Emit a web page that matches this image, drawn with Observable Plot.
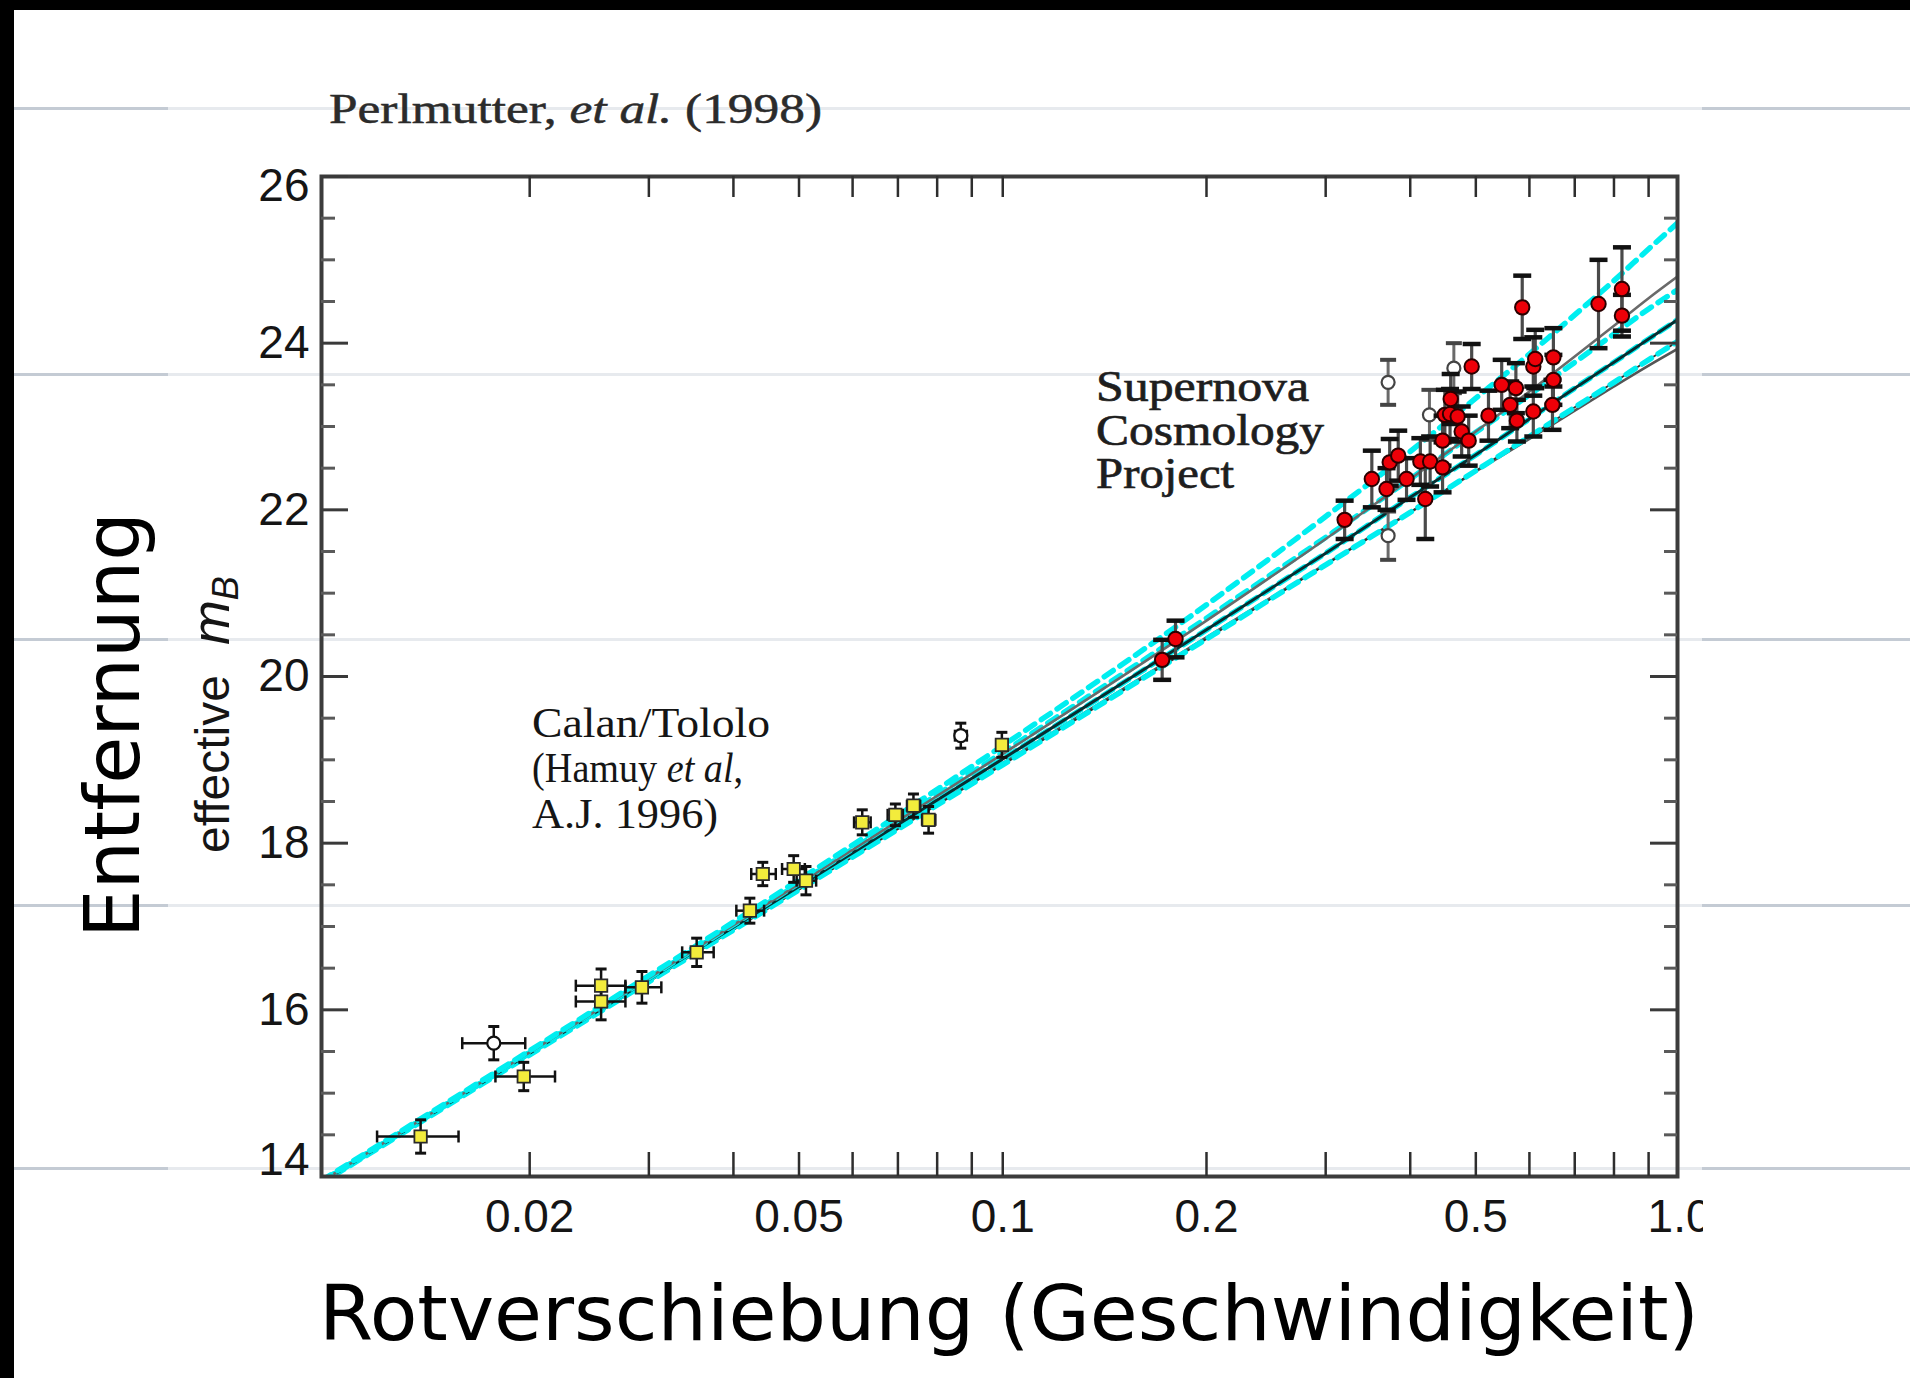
<!DOCTYPE html>
<html lang="de">
<head>
<meta charset="utf-8">
<title>Perlmutter et al. (1998)</title>
<script src="https://cdn.jsdelivr.net/npm/d3@7"></script>
<script src="https://cdn.jsdelivr.net/npm/@observablehq/plot@0.6"></script>
<style>
  html, body { margin:0; padding:0; background:#fff; }
  #page { position:relative; width:1910px; height:1378px; overflow:hidden; background:#fff; }
  .band { position:absolute; background:#000; z-index:3; }
  .sl { position:absolute; height:3px; z-index:0; }
  .sl.l { left:14px; width:154px; background:#c4cbd4; }
  .sl.m { left:168px; width:1534px; background:#e7eaee; }
  .sl.r { left:1702px; width:208px; background:#c4cbd4; }
  #chart { position:absolute; left:0; top:0; z-index:1; }
</style>
</head>
<body>
<div id="page">
  <div id="rules"></div>
  <div id="chart"></div>
  <div class="band" style="left:0;top:0;width:1910px;height:10px"></div>
  <div class="band" style="left:0;top:0;width:14px;height:1378px"></div>
</div>
<script>
// ---------------- data ----------------
// model curves (effective m_B read at these redshifts)
const zGrid      = [0.00985, 0.02, 0.05, 0.1, 0.2, 0.3, 0.4, 0.5, 0.6, 0.7, 0.8, 0.9, 0.993];
const mModel_0_1   = [13.95, 15.51, 17.56, 19.17, 20.86, 21.92, 22.70, 23.34, 23.87, 24.34, 24.75, 25.13, 25.44]; // (ΩM,ΩΛ)=(0,1) dashed
const mModel_0_0   = [13.94, 15.49, 17.51, 19.07, 20.67, 21.65, 22.37, 22.94, 23.42, 23.84, 24.21, 24.54, 24.80]; // (0,0) solid
const mModel_05_05 = [13.94, 15.49, 17.52, 19.09, 20.70, 21.67, 22.37, 22.93, 23.38, 23.77, 24.11, 24.41, 24.64]; // (0.5,0.5) dashed
const mModel_1_0   = [13.93, 15.48, 17.48, 19.01, 20.56, 21.48, 22.15, 22.66, 23.09, 23.46, 23.77, 24.05, 24.28]; // (1,0) solid+dashed
const mModel_15_m05= [13.92, 15.46, 17.44, 18.94, 20.45, 21.34, 21.97, 22.47, 22.88, 23.23, 23.53, 23.80, 24.02]; // (1.5,-0.5) dashed
const mModel_2_0   = [13.93, 15.47, 17.46, 18.96, 20.47, 21.35, 21.97, 22.46, 22.85, 23.19, 23.48, 23.73, 23.93]; // (2,0) solid

// Calan/Tololo supernovae (yellow)
const calanZ    = [0.0138, 0.0196, 0.0255, 0.0255, 0.0293, 0.0353, 0.0423, 0.0442, 0.0491, 0.0512, 0.0620, 0.0694, 0.0738, 0.0777, 0.0997];
const calanM    = [14.48, 15.20, 16.29, 16.10, 16.27, 16.69, 17.19, 17.63, 17.69, 17.55, 18.25, 18.34, 18.45, 18.28, 19.18];
const calanMErr = [0.20, 0.17, 0.20, 0.22, 0.19, 0.17, 0.15, 0.14, 0.16, 0.17, 0.15, 0.13, 0.14, 0.16, 0.15];
const calanZLo  = [0.0119, 0.0178, 0.0234, 0.0234, 0.0277, 0.0336, 0.0404, 0.0425, 0.0472, 0.0496, 0.0603, 0.0676, 0.0722, 0.0760, 0.0978];
const calanZHi  = [0.0157, 0.0218, 0.0277, 0.0277, 0.0313, 0.0374, 0.0444, 0.0462, 0.0510, 0.0530, 0.0638, 0.0712, 0.0755, 0.0795, 0.1017];
// Calan/Tololo excluded (open)
const calanOpenZ    = [0.0177, 0.0867];
const calanOpenM    = [15.60, 19.29];
const calanOpenMErr = [0.20, 0.15];
const calanOpenZLo  = [0.0159, 0.0850];
const calanOpenZHi  = [0.0197, 0.0885];

// Supernova Cosmology Project (red)
const scpZ   = [0.172, 0.180, 0.320, 0.351, 0.369, 0.373, 0.384, 0.395, 0.414, 0.421, 0.428, 0.4465, 0.4465, 0.450, 0.458, 0.459, 0.470, 0.4765, 0.488, 0.493, 0.522, 0.546, 0.562, 0.573, 0.575, 0.5855, 0.608, 0.608, 0.612, 0.651, 0.651, 0.649, 0.759, 0.822, 0.822];
const scpM   = [20.20, 20.45, 21.88, 22.37, 22.25, 22.57, 22.65, 22.37, 22.58, 22.13, 22.58, 22.51, 22.83, 23.14, 23.15, 23.33, 23.12, 22.94, 22.83, 23.72, 23.13, 23.50, 23.26, 23.46, 23.07, 24.43, 23.18, 23.72, 23.81, 23.83, 23.56, 23.26, 24.47, 24.65, 24.33];
const scpErr = [0.24, 0.22, 0.23, 0.34, 0.25, 0.28, 0.30, 0.25, 0.28, 0.48, 0.30, 0.30, 0.30, 0.30, 0.30, 0.30, 0.30, 0.30, 0.30, 0.27, 0.30, 0.30, 0.28, 0.30, 0.25, 0.38, 0.30, 0.35, 0.35, 0.35, 0.30, 0.30, 0.53, 0.50, 0.25];
// SCP excluded (open)
const scpOpenZ   = [0.371, 0.371, 0.427, 0.464];
const scpOpenM   = [23.53, 21.69, 23.14, 23.70];
const scpOpenErr = [0.27, 0.29, 0.30, 0.30];

// axes
const xTickValues = [0.02, 0.05, 0.1, 0.2, 0.5, 1.0];
const xTickLabels = ["0.02", "0.05", "0.1", "0.2", "0.5", "1.0"];
const xMinorTicks = [0.02, 0.03, 0.04, 0.05, 0.06, 0.07, 0.08, 0.09, 0.1, 0.2, 0.3, 0.4, 0.5, 0.6, 0.7, 0.8, 0.9];
const yTickValues = [14, 16, 18, 20, 22, 24, 26];
const yTickLabels = ["14", "16", "18", "20", "22", "24", "26"];
const yMinorTicks = [14.5, 15, 15.5, 16.5, 17, 17.5, 18.5, 19, 19.5, 20.5, 21, 21.5, 22.5, 23, 23.5, 24.5, 25, 25.5];

// annotations (anchor in data units: z of left edge, m of each baseline)
const calanLabelZ = 0.0202;
const calanLabelM = [19.27, 18.73, 18.18];
const scpLabelZ = 0.1376;
const scpLabelM = [23.30, 22.77, 22.26];
const scpLabelLines = ["Supernova", "Cosmology", "Project"];

// slide background rules (page decoration)
const slideRuleY = [108, 374, 639, 905, 1168];

// ---------------- page decoration ----------------
const rulesDiv = document.getElementById("rules");
for (const y of slideRuleY) {
  for (const c of ["l", "m", "r"]) {
    const d = document.createElement("div");
    d.className = "sl " + c;
    d.style.top = (y - 1.5) + "px";
    rulesDiv.appendChild(d);
  }
}

// ---------------- chart ----------------
const W = 1703, H = 1378, ML = 321, MR = 26, MT = 176, MB = 202;
const FW = W - ML - MR, FH = H - MT - MB;

const rows = ms => zGrid.map((z, i) => ({z, m: ms[i]}));
const calan = calanZ.map((z, i) => ({z, m: calanM[i], e: calanMErr[i], lo: calanZLo[i], hi: calanZHi[i]}));
const calanOpen = calanOpenZ.map((z, i) => ({z, m: calanOpenM[i], e: calanOpenMErr[i], lo: calanOpenZLo[i], hi: calanOpenZHi[i]}));
const scp = scpZ.map((z, i) => ({z, m: scpM[i], e: scpErr[i]}));
const scpOpen = scpOpenZ.map((z, i) => ({z, m: scpOpenM[i], e: scpOpenErr[i]}));

const hCap = {draw(ctx, size) { const r = Math.sqrt(size / Math.PI); ctx.moveTo(-r, 0); ctx.lineTo(r, 0); }};
const vCap = {draw(ctx, size) { const r = Math.sqrt(size / Math.PI); ctx.moveTo(0, -r); ctx.lineTo(0, r); }};

const cyan = "#00eef0";
const dash = {x: "z", y: "m", stroke: cyan, strokeWidth: 5.5, strokeDasharray: "11,8", curve: "monotone-x", clip: true};
const solid = (c, w) => ({x: "z", y: "m", stroke: c, strokeWidth: w, curve: "monotone-x", clip: true});
const sans = "'Liberation Sans', Arial, Helvetica, sans-serif";
const serif = "'Liberation Serif', 'Times New Roman', Times, serif";
const dejavu = "'DejaVu Sans', Verdana, sans-serif";

const yRows = yTickValues.map((v, i) => ({v, label: yTickLabels[i]}));

const chart = Plot.plot({
  width: W, height: H,
  marginLeft: ML, marginRight: MR, marginTop: MT, marginBottom: MB,
  style: {background: "transparent", overflow: "hidden", fontFamily: sans},
  x: {type: "log", domain: [0.00985, 0.993], axis: null},
  y: {domain: [14, 26], axis: null},
  marks: [
    // model curves
    Plot.line(rows(mModel_2_0), solid("#555", 2.6)),
    Plot.line(rows(mModel_15_m05), solid("#333", 1.8)),
    Plot.line(rows(mModel_15_m05), {...dash, strokeDashoffset: 4}),
    Plot.line(rows(mModel_1_0), {...dash, strokeDashoffset: 10}),
    Plot.line(rows(mModel_1_0), solid("#062f32", 3)),
    Plot.line(rows(mModel_05_05), {...dash, strokeDashoffset: 15}),
    Plot.line(rows(mModel_0_0), solid("#6a6a6a", 2.6)),
    Plot.line(rows(mModel_0_1), dash),

    // Calan/Tololo error bars
    Plot.ruleY(calan, {y: "m", x1: "lo", x2: "hi", stroke: "#111", strokeWidth: 2.5}),
    Plot.ruleX(calan, {x: "z", y1: d => d.m - d.e, y2: d => d.m + d.e, stroke: "#111", strokeWidth: 2.5}),
    Plot.dot(calan, {x: "z", y: d => d.m + d.e, symbol: hCap, r: 5.5, fill: "none", stroke: "#111", strokeWidth: 3}),
    Plot.dot(calan, {x: "z", y: d => d.m - d.e, symbol: hCap, r: 5.5, fill: "none", stroke: "#111", strokeWidth: 3}),
    Plot.dot(calan, {x: "lo", y: "m", symbol: vCap, r: 6, fill: "none", stroke: "#111", strokeWidth: 2.5}),
    Plot.dot(calan, {x: "hi", y: "m", symbol: vCap, r: 6, fill: "none", stroke: "#111", strokeWidth: 2.5}),
    Plot.ruleY(calanOpen, {y: "m", x1: "lo", x2: "hi", stroke: "#111", strokeWidth: 2.5}),
    Plot.ruleX(calanOpen, {x: "z", y1: d => d.m - d.e, y2: d => d.m + d.e, stroke: "#111", strokeWidth: 2.5}),
    Plot.dot(calanOpen, {x: "z", y: d => d.m + d.e, symbol: hCap, r: 5.5, fill: "none", stroke: "#111", strokeWidth: 3}),
    Plot.dot(calanOpen, {x: "z", y: d => d.m - d.e, symbol: hCap, r: 5.5, fill: "none", stroke: "#111", strokeWidth: 3}),
    Plot.dot(calanOpen, {x: "lo", y: "m", symbol: vCap, r: 6, fill: "none", stroke: "#111", strokeWidth: 2.5}),
    Plot.dot(calanOpen, {x: "hi", y: "m", symbol: vCap, r: 6, fill: "none", stroke: "#111", strokeWidth: 2.5}),
    // Calan/Tololo markers
    Plot.dot(calanOpen, {x: "z", y: "m", symbol: "circle", r: 6.5, fill: "white", stroke: "#111", strokeWidth: 2.2}),
    Plot.dot(calan, {x: "z", y: "m", symbol: "square", r: 7, fill: "#f3ec3c", stroke: "#2a2a2a", strokeWidth: 1.8}),

    // SCP error bars
    Plot.ruleX(scpOpen, {x: "z", y1: d => d.m - d.e, y2: d => d.m + d.e, stroke: "#6a6a6a", strokeWidth: 3}),
    Plot.dot(scpOpen, {x: "z", y: d => d.m + d.e, symbol: hCap, r: 8, fill: "none", stroke: "#444", strokeWidth: 4}),
    Plot.dot(scpOpen, {x: "z", y: d => d.m - d.e, symbol: hCap, r: 8, fill: "none", stroke: "#444", strokeWidth: 4}),
    Plot.dot(scpOpen, {x: "z", y: "m", symbol: "circle", r: 6.5, fill: "white", stroke: "#444", strokeWidth: 2.2}),
    Plot.ruleX(scp, {x: "z", y1: d => d.m - d.e, y2: d => d.m + d.e, stroke: "#4a4a4a", strokeWidth: 3.2}),
    Plot.dot(scp, {x: "z", y: d => d.m + d.e, symbol: hCap, r: 9, fill: "none", stroke: "#111", strokeWidth: 4.5}),
    Plot.dot(scp, {x: "z", y: d => d.m - d.e, symbol: hCap, r: 9, fill: "none", stroke: "#111", strokeWidth: 4.5}),
    Plot.dot(scp, {x: "z", y: "m", symbol: "circle", r: 7.2, fill: "#ee0008", stroke: "#2a0000", strokeWidth: 2}),

    // frame & ticks
    Plot.frame({stroke: "#3c3c3c", strokeWidth: 4}),
    Plot.tickX(xMinorTicks, {x: d => d, insetTop: FH - 24, stroke: "#2e2e2e", strokeWidth: 2.5}),
    Plot.tickX(xMinorTicks, {x: d => d, insetBottom: FH - 21, stroke: "#2e2e2e", strokeWidth: 2.5}),
    Plot.tickY(yTickValues, {y: d => d, insetRight: FW - 27, stroke: "#3a3a3a", strokeWidth: 3}),
    Plot.tickY(yMinorTicks, {y: d => d, insetRight: FW - 14, stroke: "#5a5a5a", strokeWidth: 3}),
    Plot.tickY(yTickValues, {y: d => d, insetLeft: FW - 27, stroke: "#3a3a3a", strokeWidth: 3}),
    Plot.tickY(yMinorTicks, {y: d => d, insetLeft: FW - 13, stroke: "#5a5a5a", strokeWidth: 3}),

    // tick labels
    Plot.text(xTickValues, {x: d => d, text: (d, i) => xTickLabels[i], frameAnchor: "bottom", lineAnchor: "middle", dy: 41, fontSize: 46, fontFamily: sans, fill: "#151515"}),
    Plot.text(yRows.filter(d => d.v > 14 && d.v < 26), {y: "v", text: "label", frameAnchor: "left", textAnchor: "end", dx: -12, fontSize: 46, fontFamily: sans, fill: "#151515"}),
    Plot.text(yRows.filter(d => d.v === 26), {y: "v", text: "label", frameAnchor: "left", textAnchor: "end", dx: -12, dy: 10, fontSize: 46, fontFamily: sans, fill: "#151515"}),
    Plot.text(yRows.filter(d => d.v === 14), {y: "v", text: "label", frameAnchor: "left", textAnchor: "end", dx: -12, dy: -16, fontSize: 46, fontFamily: sans, fill: "#151515"})
  ]
});

document.getElementById("chart").appendChild(chart);

// ---------------- rich text (titles / annotations) ----------------
const sx = chart.scale("x"), sy = chart.scale("y");
const svg = d3.select(chart);

// title
const title = svg.append("text")
  .attr("x", 329).attr("y", 123).attr("text-anchor", "start")
  .attr("font-family", serif).attr("font-size", 42).attr("fill", "#2b2b2b")
  .attr("stroke", "#2b2b2b").attr("stroke-width", 0.5)
  .attr("textLength", 493).attr("lengthAdjust", "spacingAndGlyphs");
title.append("tspan").text("Perlmutter, ");
title.append("tspan").attr("font-style", "italic").text("et al.");
title.append("tspan").text(" (1998)");

// Calan/Tololo annotation
const cx = sx.apply(calanLabelZ);
const calanLines = [
  [["Calan/Tololo", false]],
  [["(Hamuy ", false], ["et al", true], [",", false]],
  [["A.J. 1996)", false]]
];
const calanWidths = [238, 211, 186];
calanLines.forEach((parts, i) => {
  const t = svg.append("text")
    .attr("x", cx).attr("y", sy.apply(calanLabelM[i])).attr("text-anchor", "start")
    .attr("font-family", serif).attr("font-size", 43).attr("fill", "#151515")
    .attr("textLength", calanWidths[i]).attr("lengthAdjust", "spacingAndGlyphs");
  parts.forEach(([s, it]) => {
    const ts = t.append("tspan").text(s);
    if (it) ts.attr("font-style", "italic");
  });
});

// Supernova Cosmology Project annotation
const scx = sx.apply(scpLabelZ);
const scpWidths = [213, 228, 138];
scpLabelLines.forEach((s, i) => {
  svg.append("text")
    .attr("x", scx).attr("y", sy.apply(scpLabelM[i])).attr("text-anchor", "start")
    .attr("font-family", serif).attr("font-size", 44).attr("fill", "#1e1e1e")
    .attr("stroke", "#1e1e1e").attr("stroke-width", 0.7)
    .attr("textLength", scpWidths[i]).attr("lengthAdjust", "spacingAndGlyphs")
    .text(s);
});

// y-axis label: effective m_B
const yl = svg.append("text")
  .attr("transform", "translate(229,853) rotate(-90)").attr("text-anchor", "start")
  .attr("font-family", sans).attr("font-size", 48).attr("fill", "#151515");
yl.append("tspan").text("effective");
yl.append("tspan").attr("dx", 30).attr("font-style", "italic").attr("font-size", 54).text("m");
yl.append("tspan").attr("dy", 9).attr("font-style", "italic").attr("font-size", 36).text("B");

// big axis titles
svg.append("text")
  .attr("transform", "translate(139,725) rotate(-90)")
  .attr("text-anchor", "middle")
  .attr("font-family", dejavu).attr("font-size", 77).attr("fill", "#000")
  .attr("textLength", 426).attr("lengthAdjust", "spacingAndGlyphs")
  .text("Entfernung");

svg.append("text")
  .attr("x", 319).attr("y", 1340).attr("text-anchor", "start")
  .attr("font-family", dejavu).attr("font-size", 77).attr("fill", "#000")
  .attr("textLength", 1380).attr("lengthAdjust", "spacingAndGlyphs")
  .text("Rotverschiebung (Geschwindigkeit)");
</script>
</body>
</html>
